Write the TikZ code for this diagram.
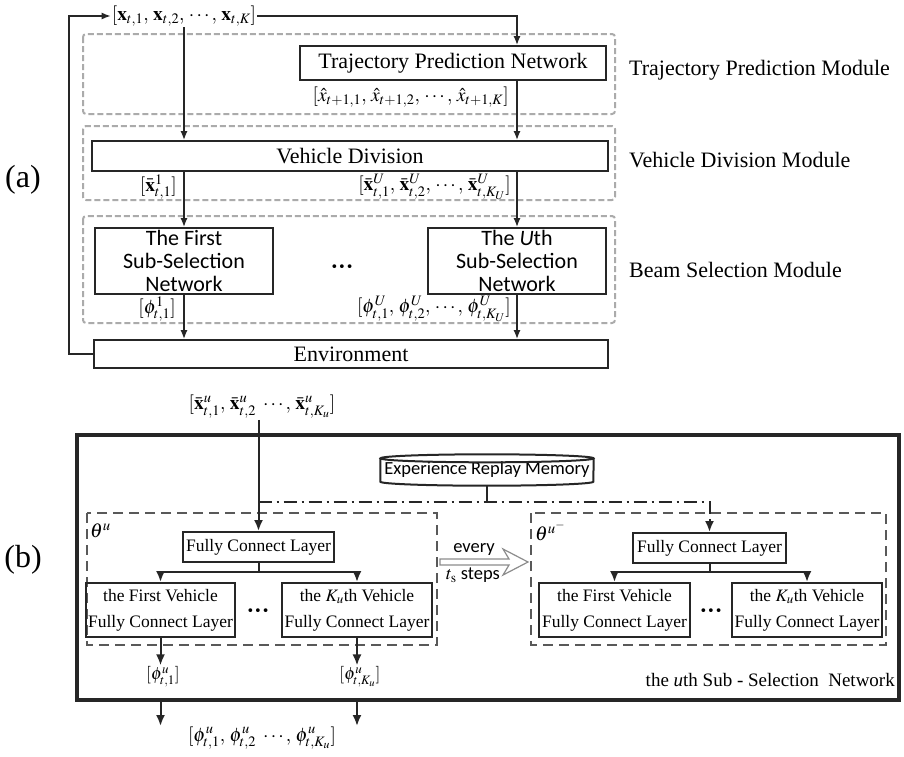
\documentclass[tikz,border=0pt]{standalone}
\usepackage{mathptmx}
\usepackage{fontspec}
\setmainfont{Liberation Serif}
\newfontfamily\calibrifont{Carlito}
\newfontfamily\dejavufont{DejaVu Sans}
\usetikzlibrary{arrows.meta,calc}
\begin{document}
\begin{tikzpicture}[x=1pt,y=-1pt,
  ab/.style={draw=black!85, line width=1.8pt, inner sep=0pt, align=center, font=\fontsize{22}{22}\selectfont},
  sb/.style={ab, minimum width=178pt, minimum height=66pt, font=\calibrifont\fontsize{22}{23}\selectfont},
  fb/.style={draw=black!85, line width=2pt, inner sep=0pt, align=center, font=\fontsize{17.5}{26}\selectfont},
  gdash/.style={draw=black!33, line width=2pt, dash pattern=on 6pt off 3pt, rounded corners=3pt},
  kdash/.style={draw=black!65, line width=1.5pt, dash pattern=on 10pt off 6pt},
  mlab/.style={inner sep=1pt, font=\fontsize{19.5}{22}\selectfont},
  blab/.style={inner sep=1pt, font=\fontsize{17.5}{20}\selectfont},
  modl/.style={anchor=west, inner sep=0pt, font=\fontsize{22}{24}\selectfont},
  arA/.style={draw=black!85, line width=1.5pt, -{Latex[length=9pt,width=7pt]}},
  arB/.style={draw=black!85, line width=2pt, -{Latex[length=11pt,width=9pt]}},
  lnB/.style={draw=black!85, line width=2pt},
  ddash/.style={draw=black!85, line width=2pt, dash pattern=on 13pt off 5pt on 2pt off 5pt, -{Latex[length=11pt,width=9pt]}},
  dots/.style={inner sep=0pt, font=\dejavufont\fontsize{13}{13}\selectfont}
]
\useasboundingbox (0,0) rectangle (904,756);

% ---------------- (a) ----------------
\node[font=\fontsize{32}{32}\selectfont] (la) at (23,180) {(a)};

\node[mlab] (xin) at (184,16) {$[\mathbf{x}_{t,1},\,\mathbf{x}_{t,2},\,\cdots,\,\mathbf{x}_{t,K}]$};
\coordinate (c1) at (517,16);

\draw[gdash] (83,34) rectangle (615,114);
\draw[gdash] (83,126) rectangle (615,200);
\draw[gdash] (83,216) rectangle (615,323);

\node[ab, minimum width=306pt, minimum height=34pt] (tpn) at (453,63) {Trajectory Prediction Network};
\node[mlab, anchor=east] (xh) at (510,97) {$[\hat{x}_{t+1,1},\,\hat{x}_{t+1,2},\,\cdots,\,\hat{x}_{t+1,K}]$};

\node[ab, minimum width=516pt, minimum height=30pt] (vd) at (350,156) {Vehicle Division};
\node[mlab, anchor=east] (xb1) at (178,187) {$[\bar{\mathbf{x}}^{1}_{t,1}]$};
\node[mlab, anchor=east] (xbU) at (512,187) {$[\bar{\mathbf{x}}^{U}_{t,1},\,\bar{\mathbf{x}}^{U}_{t,2},\,\cdots,\,\bar{\mathbf{x}}^{U}_{t,K_U}]$};

\node[sb] (s1) at (184,261) {The First\\Sub-Selection\\Network};
\node[sb] (sU) at (517,261) {The \textit{U}th\\Sub-Selection\\Network};
\node[dots] (d0) at (342,268) {•••};
\node[mlab, anchor=east] (p1) at (177,309) {$[\phi^{1}_{t,1}]$};
\node[mlab, anchor=east] (pU) at (512,309) {$[\phi^{U}_{t,1},\,\phi^{U}_{t,2},\,\cdots,\,\phi^{U}_{t,K_U}]$};

\node[ab, minimum width=514pt, minimum height=28pt] (env) at (351,354) {Environment};

\node[modl] (m1) at (629,70) {Trajectory Prediction Module};
\node[modl] (m2) at (629,160) {Vehicle Division Module};
\node[modl] (m3) at (629,270) {Beam Selection Module};

\draw[arA] (env.west) -- (69,354) -- (69,16) -- (xin.west);
\draw[arA] (xin.east) -- (c1) -- (c1 |- tpn.north);
\draw[arA] (c1 |- tpn.south) -- (c1 |- vd.north);
\draw[arA] (xin.south -| s1.north) -- (s1.north |- vd.north);
\draw[arA] (vd.south -| s1.north) -- (s1.north);
\draw[arA] (vd.south -| sU.north) -- (sU.north);
\draw[arA] (s1.south) -- (s1.south |- env.north);
\draw[arA] (sU.south) -- (sU.south |- env.north);

% ---------------- (b) ----------------
\node[font=\fontsize{32}{32}\selectfont] (lb) at (23,560) {(b)};

\node[mlab] (xu) at (262,407) {$[\bar{\mathbf{x}}^{u}_{t,1},\,\bar{\mathbf{x}}^{u}_{t,2}\ \cdots,\,\bar{\mathbf{x}}^{u}_{t,K_u}]$};

\draw[draw=black!85, line width=4pt] (77,435) rectangle (899,700);

\node[inner sep=0pt, minimum width=213pt, minimum height=31pt, font=\calibrifont\fontsize{18.5}{18}\selectfont] (mem) at (487,470) {Experience Replay Memory};
\draw[lnB] ([yshift=-4pt]mem.north) ellipse [x radius=106.5pt, y radius=4pt];
\draw[lnB] ([yshift=-4pt]mem.north west) -- ([yshift=4pt]mem.south west)
  arc[start angle=180, end angle=360, x radius=106.5pt, y radius=4pt] -- ([yshift=-4pt]mem.north east);
\coordinate (jn) at (487,502);
\draw[lnB] (mem.south) -- (jn);

\draw[kdash] (87,513) rectangle (437,645);
\draw[kdash] (531,513) rectangle (886,645);
\node[anchor=west, inner sep=0pt, font=\fontsize{20}{20}\selectfont] (th1) at (90,531) {$\theta^{u}$};
\node[anchor=west, inner sep=0pt, font=\fontsize{20}{20}\selectfont] (th2) at (535,531) {$\theta^{u^{-}}$};

\node[fb, minimum width=151pt, minimum height=30pt] (fc1) at (258.5,547) {Fully Connect Layer};
\node[fb, minimum width=153pt, minimum height=30pt] (fc2) at (709.5,548) {Fully Connect Layer};

\node[fb, minimum width=149pt, minimum height=54pt] (l1) at (160.5,610) {the First Vehicle\\Fully Connect Layer};
\node[fb, minimum width=150pt, minimum height=54pt] (l2) at (357,610) {the $K_u$th Vehicle\\Fully Connect Layer};
\node[fb, minimum width=151pt, minimum height=54pt] (r1) at (614.5,610) {the First Vehicle\\Fully Connect Layer};
\node[fb, minimum width=150pt, minimum height=54pt] (r2) at (807,610) {the $K_u$th Vehicle\\Fully Connect Layer};
\node[dots] (d1) at (258,612) {•••};
\node[dots] (d2) at (711,612) {•••};

\draw[arB] (xu.south -| fc1.north) -- (fc1.north);
\draw[ddash] (fc1.north |- jn) -- (fc2.north |- jn) -- (fc2.north);

\coordinate (b1) at (258.5,572);
\coordinate (b2) at (709.5,572);
\draw[lnB] (fc1.south) -- (b1);
\draw[arB] (b1) -| (l1.north);
\draw[arB] (b1) -| (l2.north);
\draw[lnB] (fc2.south) -- (b2);
\draw[arB] (b2) -| (r1.north);
\draw[arB] (b2) -| (r2.north);

\node[inner sep=0pt, font=\calibrifont\fontsize{18.5}{18}\selectfont] (ev) at (474,549) {every};
\node[inner sep=0pt, font=\calibrifont\fontsize{18.5}{18}\selectfont] (ts) at (473,575) {$t_{\mathrm{s}}$ steps};
\coordinate (h1) at (440,562);
\coordinate (h2) at (528,562);
\draw[draw=black!45, line width=1.2pt, fill=white, line join=miter]
  ($(h1)+(0,-3)$) -- ($(h2)+(-19,-3)$) -- ($(h2)+(-25,-13)$) -- (h2)
  -- ($(h2)+(-25,13)$) -- ($(h2)+(-19,3)$) -- ($(h1)+(0,3)$) -- cycle;

\node[blab] (pu1) at (163,677) {$[\phi^{u}_{t,1}]$};
\node[blab] (puK) at (360,677) {$[\phi^{u}_{t,K_u}]$};
\draw[arB] (l1.south) -- (l1.south |- pu1.north);
\draw[arB] (l2.south) -- (l2.south |- puK.north);

\node[anchor=east, inner sep=0pt, font=\fontsize{19}{19}\selectfont] (nm) at (895,680) {the \textit{u}th Sub - Selection\ \ Network};

\coordinate (o1) at (160.5,701);
\coordinate (e1) at (160.5,726);
\coordinate (o2) at (357,701);
\coordinate (e2) at (357,726);
\draw[arB] (o1) -- (e1);
\draw[arB] (o2) -- (e2);
\node[mlab] (pall) at (262,738) {$[\phi^{u}_{t,1},\,\phi^{u}_{t,2}\ \cdots,\,\phi^{u}_{t,K_u}]$};
\end{tikzpicture}
\end{document}
